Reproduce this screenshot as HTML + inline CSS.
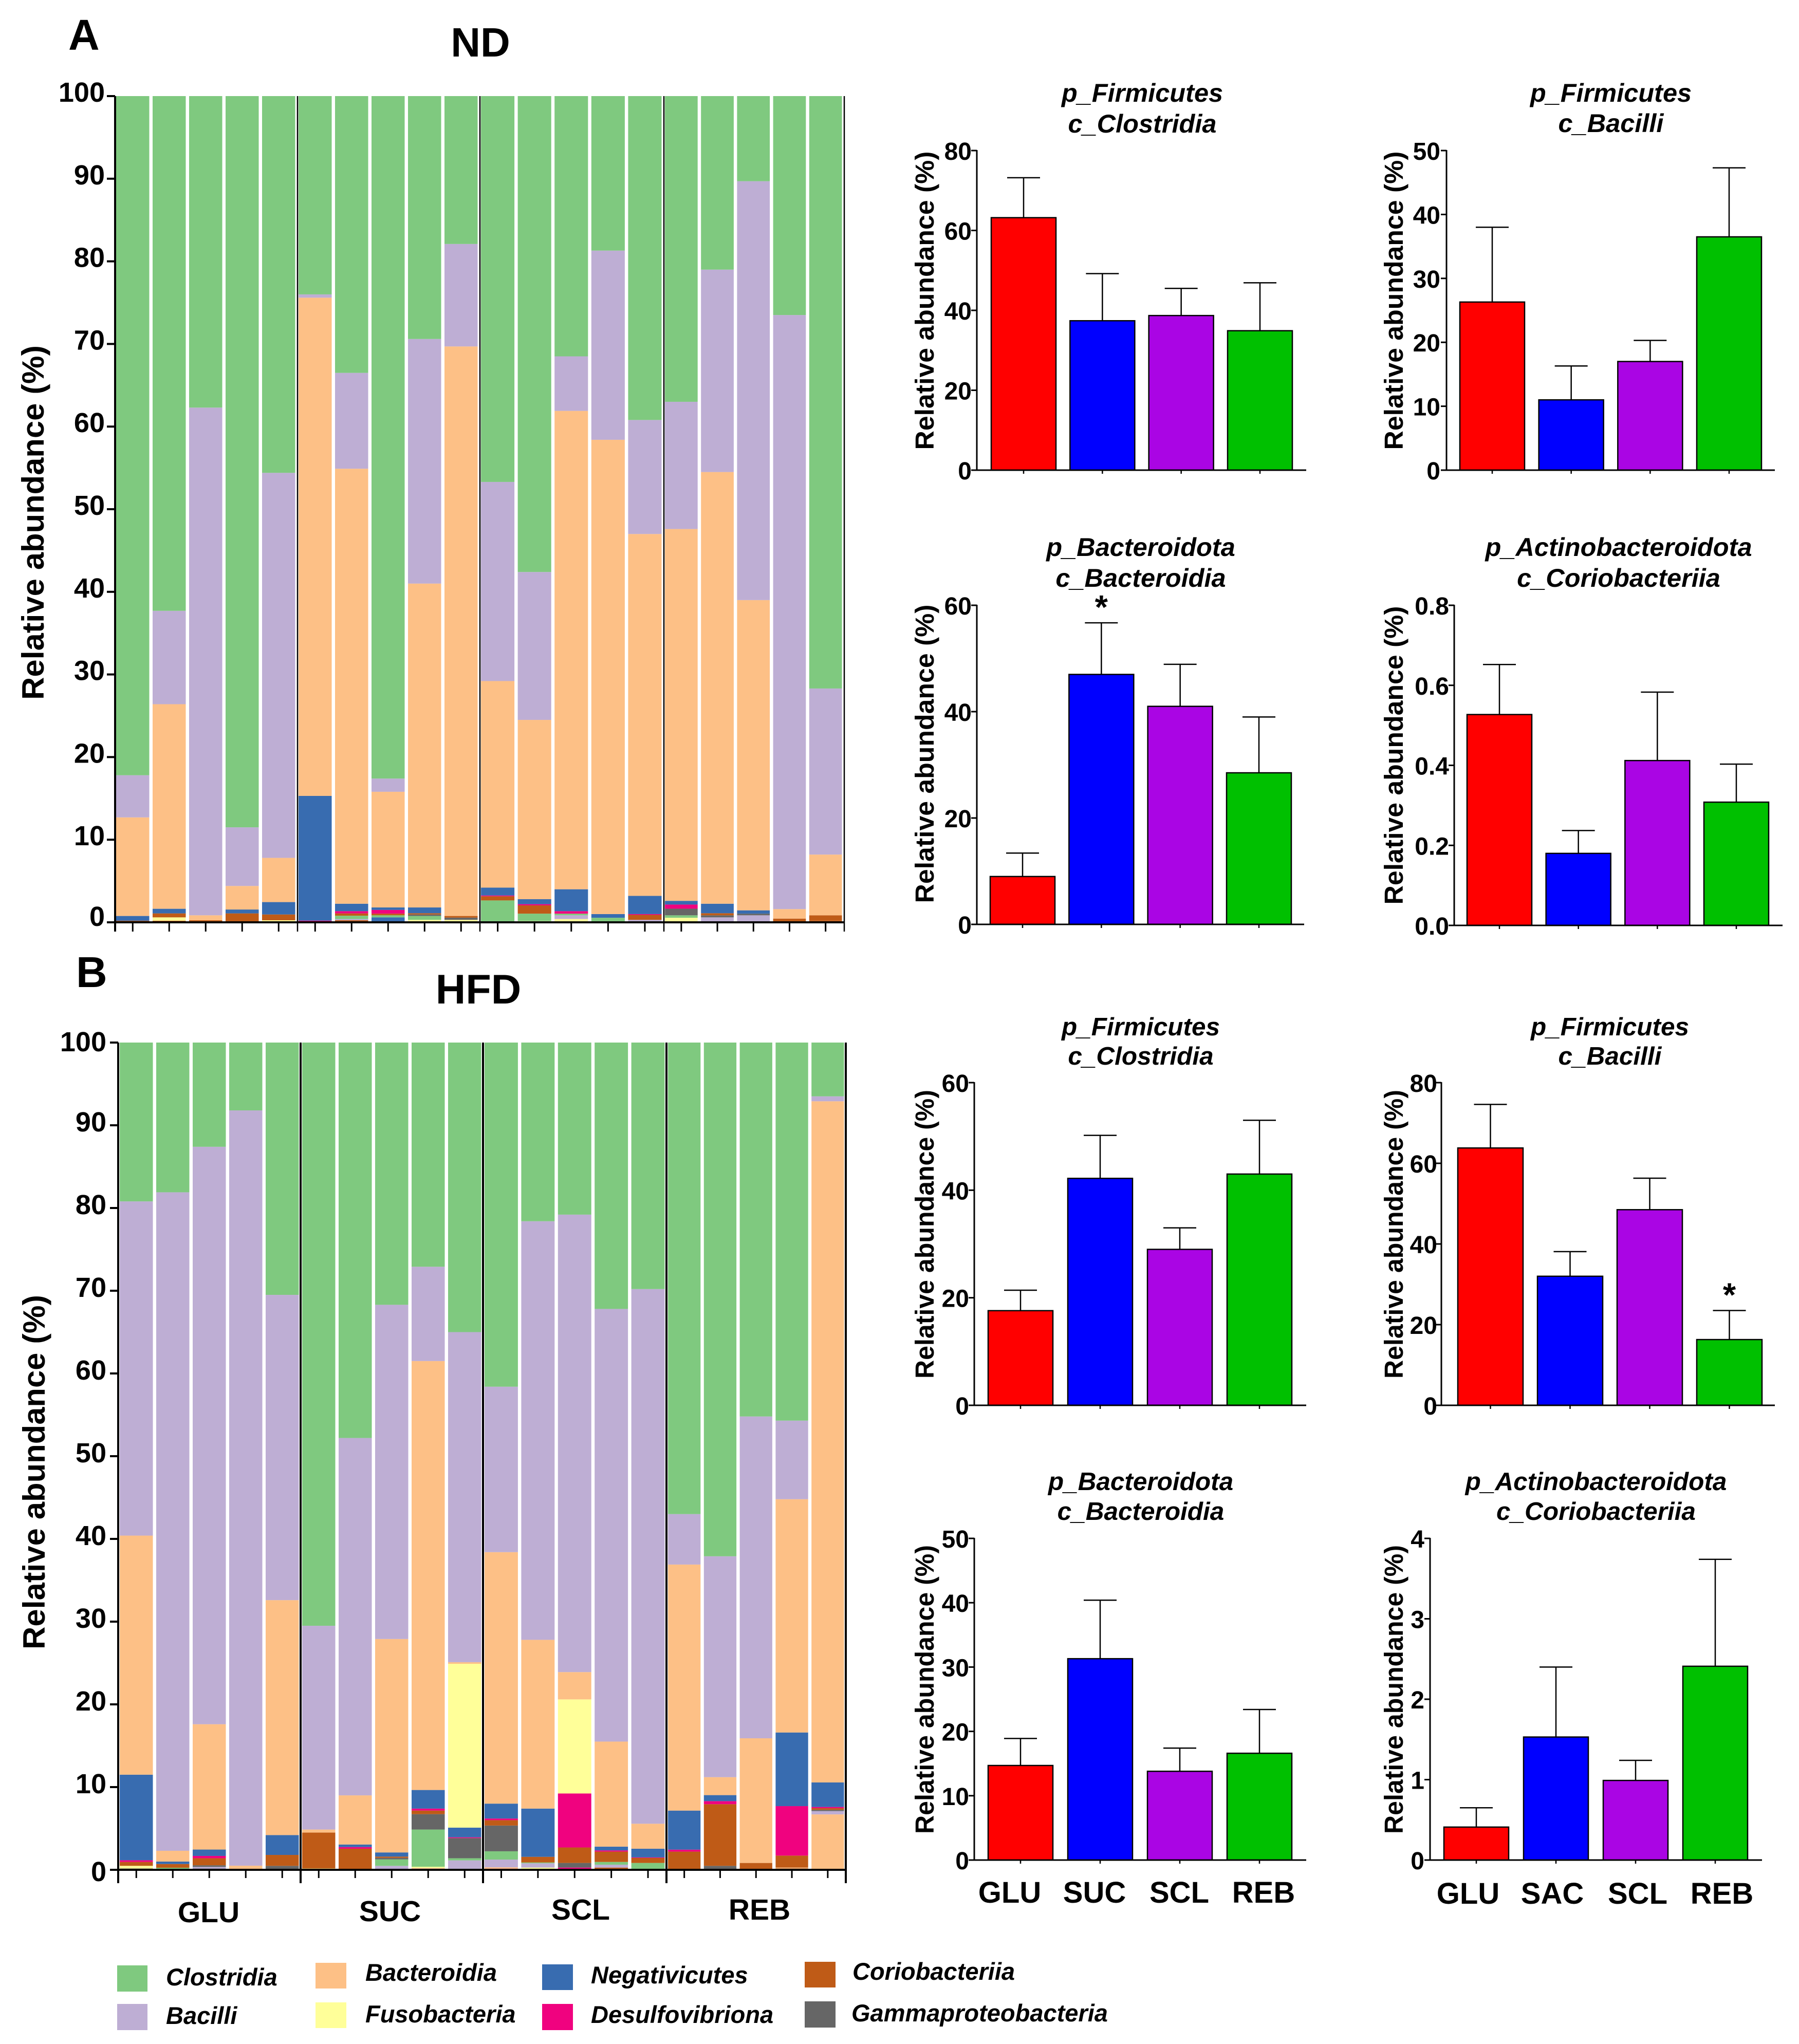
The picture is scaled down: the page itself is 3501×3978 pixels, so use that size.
<!DOCTYPE html>
<html lang="en">
<head>
<meta charset="utf-8">
<title>Relative abundance of gut microbiota classes</title>
<style>
html,body{margin:0;padding:0;background:#fff;}
svg{display:block;font-family:"Liberation Sans",Arial,sans-serif;}
text{fill:#000;font-weight:bold;}
</style>
</head>
<body>
<svg id="figure" xmlns="http://www.w3.org/2000/svg" width="3501" height="3978" viewBox="0 0 3501 3978">
  <rect x="0" y="0" width="3501" height="3978" fill="#fff"/>
  <text x="133" y="97" font-size="84">A</text>
  <text x="148" y="1921" font-size="84">B</text>
  <text x="935" y="110" font-size="80" text-anchor="middle">ND</text>
  <text x="931" y="1953" font-size="81" text-anchor="middle">HFD</text>
  <text x="406" y="3741" font-size="57" text-anchor="middle">GLU</text>
  <text x="759" y="3739" font-size="57" text-anchor="middle">SUC</text>
  <text x="1130" y="3736" font-size="57" text-anchor="middle">SCL</text>
  <text x="1478" y="3736" font-size="57" text-anchor="middle">REB</text>
  <g font-size="47" font-style="italic">
    <rect x="228" y="3825" width="59" height="51" fill="#7fc97f"/>
    <text x="323" y="3864">Clostridia</text>
    <rect x="228" y="3900" width="59" height="51" fill="#beaed4"/>
    <text x="323" y="3939">Bacilli</text>
    <rect x="614" y="3820" width="60" height="50" fill="#fdc086"/>
    <text x="711" y="3855">Bacteroidia</text>
    <rect x="614" y="3897" width="60" height="50" fill="#ffff99"/>
    <text x="711" y="3936">Fusobacteria</text>
    <rect x="1055" y="3823" width="60" height="50" fill="#386cb0"/>
    <text x="1150" y="3860">Negativicutes</text>
    <rect x="1055" y="3900" width="60" height="51" fill="#f0027f"/>
    <text x="1150" y="3937">Desulfovibriona</text>
    <rect x="1566" y="3818" width="60" height="50" fill="#bf5b17"/>
    <text x="1659" y="3853">Coriobacteriia</text>
    <rect x="1566" y="3895" width="60" height="51" fill="#666666"/>
    <text x="1657" y="3934">Gammaproteobacteria</text>
  </g>
</svg>
<script>
// ---------- Stacked chart shared values ----------
const stackTicks = [0, 10, 20, 30, 40, 50, 60, 70, 80, 90, 100];
const taxaOrderBottomUp = ['gray2','brown2','pink2','blue2','yellow2','peach2','lilac2','green2','gray','brown','pink','blue','yellow','peach','lilac','green'];

// ---------- ND stacked values (per sample, GLU / SUC / SCL / REB) ----------
const ndGreen  = [82.2,62.3,37.7,88.5,45.6,24,33.5,82.6,29.4,17.9,46.7,57.6,31.5,18.7,39.2,37,21,10.3,26.5,71.7];
const ndLilac  = [5.1,11.3,61.45,7.1,46.6,0.4,11.6,1.6,29.6,12.4,24.1,17.9,6.6,22.9,13.8,15.4,24.5,50.7,71.9,20.1];
const ndPeach  = [11.93,24.76,0.6,2.85,5.35,60.3,52.65,14,39.2,68.93,25,21.7,57.9,57.4,43.8,45,52.25,37.55,1.15,7.35];
const ndYellow = [0,0,0,0,0,0,0,0,0,0,0,0,0,0,0,0,0,0,0,0];
const ndBlue   = [0.58,0.56,0,0.47,1.5,15.1,0.9,0.3,0.7,0,0.95,0.6,2.65,0.45,2.2,0.45,1.15,0.4,0,0];
const ndPink   = [0,0,0,0,0,0,0.27,0.45,0,0,0.1,0.15,0.3,0,0.1,0.5,0,0,0,0];
const ndBrown  = [0.19,0.48,0,1.03,0.7,0,0.28,0.2,0.15,0.2,0.5,1,0,0,0.6,0,0.25,0,0.45,0.65];
const ndGray   = [0,0,0,0,0,0,0,0,0.18,0.27,0,0,0,0,0,0.8,0.25,0.2,0,0];
const ndGreen2 = [0,0,0,0,0,0,0.4,0.25,0.47,0,2.65,0.9,0.2,0.55,0,0.3,0,0,0,0];
const ndLilac2 = [0,0,0,0,0,0,0.15,0,0,0,0,0,0.45,0,0.3,0,0.6,0.85,0,0];
const ndPeach2 = [0,0,0,0,0,0,0,0,0,0,0,0,0,0,0,0,0,0,0,0];
const ndYellow2= [0,0.4,0,0,0.15,0,0,0,0.3,0.2,0,0.15,0.28,0,0,0.55,0,0,0,0];
const ndBlue2  = [0,0,0,0,0,0,0,0.6,0,0,0,0,0,0,0,0,0,0,0,0];
const ndPink2  = [0,0,0,0,0,0.2,0,0,0,0,0,0,0,0,0,0,0,0,0,0];
const ndBrown2 = [0,0.2,0.25,0.05,0.1,0,0.25,0,0,0,0,0,0,0,0,0,0,0,0,0.2];
const ndGray2  = [0,0,0,0,0,0,0,0,0,0.1,0,0,0.12,0,0,0,0,0,0,0];

// ---------- HFD stacked values ----------
const hfdGreen  = [19.2,18.1,12.6,8.2,30.5,70.5,47.8,31.7,27.1,35,41.6,21.6,20.8,32.2,29.8,57,62.1,45.2,45.7,6.5];
const hfdLilac  = [40.4,79.6,69.8,91.3,36.9,24.63,43.2,40.4,11.4,39.9,20,50.6,55.3,52.3,64.63,6.1,26.7,38.9,9.5,0.6];
const hfdPeach  = [28.9,1.3,15.15,0.4,28.4,0.37,5.94,25.8,51.85,0.2,30.4,20.4,3.3,12.7,3.02,29.74,2.17,15.07,28.2,82.34];
const hfdYellow = [0,0,0,0,0,0,0,0,0,19.8,0,0,11.37,0,0,0,0,0,0,0];
const hfdBlue   = [10.34,0.3,0.77,0,2.4,0,0.31,0.5,2.25,1.17,1.8,5.83,0,0.45,1.05,4.72,0.73,0,8.9,2.96];
const hfdPink   = [0.21,0,0.28,0,0,0,0.2,0,0.24,0.1,0.2,0,6.53,0.15,0.07,0.24,0.37,0,5.98,0.15];
const hfdBrown  = [0.47,0.45,0.85,0,1.32,4.34,2.55,0.15,0.43,0,0.65,0.68,1.87,1.25,0.6,2.2,7.45,0.83,1.45,0.2];
const hfdGray   = [0,0,0.2,0,0.43,0,0,0.19,1.86,2.43,3.11,0,0.56,0,0,0,0.48,0,0,0.15];
const hfdGreen2 = [0,0.25,0,0,0,0,0,0.78,4.5,0.26,1,0.1,0,0.33,0.83,0,0,0,0,0];
const hfdLilac2 = [0,0,0.2,0,0,0,0,0.48,0,1.14,0.94,0.52,0,0.35,0,0,0,0,0,0.4];
const hfdPeach2 = [0,0,0,0,0,0,0,0,0,0,0.16,0,0,0,0,0,0,0,0.11,6.7];
const hfdYellow2= [0.32,0,0,0,0,0.16,0,0,0.22,0,0,0.27,0,0,0,0,0,0,0,0];
const hfdBlue2  = [0,0,0,0,0,0,0,0,0,0,0,0,0,0,0,0,0,0,0,0];
const hfdPink2  = [0,0,0,0,0,0,0,0,0.15,0,0.14,0,0.27,0,0,0,0,0,0,0];
const hfdBrown2 = [0,0,0,0,0,0,0,0,0,0,0,0,0,0.27,0,0,0,0,0.16,0];
const hfdGray2  = [0.16,0,0.15,0.1,0.05,0,0,0,0,0,0,0,0,0,0,0,0,0,0,0];

// ---------- Small bar charts ----------
const ndClostridiaMeans = [63.2,37.4,38.7,34.9];
const ndClostridiaErrors = [73.2,49.2,45.5,46.9];
const ndClostridiaTicks = [0,20,40,60,80];
const ndBacilliMeans = [26.3,11,17,36.5];
const ndBacilliErrors = [38,16.3,20.3,47.3];
const ndBacilliTicks = [0,10,20,30,40,50];
const ndBacteroidiaMeans = [9,47,41,28.5];
const ndBacteroidiaErrors = [13.4,56.7,48.9,39];
const ndBacteroidiaTicks = [0,20,40,60];
const ndCoriobacteriiaMeans = [0.527,0.18,0.412,0.308];
const ndCoriobacteriiaErrors = [0.652,0.237,0.583,0.403];
const ndCoriobacteriiaTicks = ['0.0','0.2','0.4','0.6','0.8'];
const hfdClostridiaMeans = [17.6,42.2,29,43];
const hfdClostridiaErrors = [21.4,50.2,33,53];
const hfdClostridiaTicks = [0,20,40,60];
const hfdBacilliMeans = [63.8,32,48.5,16.3];
const hfdBacilliErrors = [74.6,38.1,56.3,23.5];
const hfdBacilliTicks = [0,20,40,60,80];
const hfdBacteroidiaMeans = [14.7,31.3,13.8,16.6];
const hfdBacteroidiaErrors = [18.9,40.4,17.4,23.4];
const hfdBacteroidiaTicks = [0,10,20,30,40,50];
const hfdCoriobacteriiaMeans = [0.41,1.53,0.99,2.41];
const hfdCoriobacteriiaErrors = [0.65,2.4,1.24,3.74];
const hfdCoriobacteriiaTicks = [0,1,2,3,4];
const groupNamesSuc = ['GLU','SUC','SCL','REB'];
const groupNamesSac = ['GLU','SAC','SCL','REB'];

const taxaColors = {green:'#7fc97f',lilac:'#beaed4',peach:'#fdc086',yellow:'#ffff99',blue:'#386cb0',pink:'#f0027f',brown:'#bf5b17',gray:'#666666',
  green2:'#7fc97f',lilac2:'#beaed4',peach2:'#fdc086',yellow2:'#ffff99',blue2:'#386cb0',pink2:'#f0027f',brown2:'#bf5b17',gray2:'#666666'};
const barColors = ['#ff0000','#0000ff','#aa05e4','#00c000'];

const SVGNS = 'http://www.w3.org/2000/svg';
const figure = document.getElementById('figure');

function make(tag, parent, attrs) {
  const el = document.createElementNS(SVGNS, tag);
  for (const k in attrs) el.setAttribute(k, attrs[k]);
  parent.appendChild(el);
  return el;
}

function drawStacked(layout, series, prefix) {
  const g = make('g', figure, {});
  
  
  const y = v => layout.y0 + (layout.y100 - layout.y0) * v / 100;
  const perGroup = 5;
  const xLeft = i => {
    const gi = Math.floor(i / perGroup);
    const w = (layout.edges[gi + 1] - layout.edges[gi]) / perGroup;
    return layout.edges[gi] + (i % perGroup) * w + layout.inset;
  };
  const barW = i => {
    const gi = Math.floor(i / perGroup);
    return (layout.edges[gi + 1] - layout.edges[gi]) / perGroup - layout.gap;
  };
  const sampleCount = series.green.length;
  for (let i = 0; i < sampleCount; i++) {
    let acc = 0;
    taxaOrderBottomUp.forEach(function (key) {
      const v = series[key][i];
      if (v <= 0) return;
      const seg = make('rect', g, {x: xLeft(i), y: y(acc + v), width: barW(i), height: y(acc) - y(acc + v), fill: taxaColors[key]});
      
      
      acc += v;
    });
    const tick = make('line', g, {x1: xLeft(i) + barW(i) / 2, x2: xLeft(i) + barW(i) / 2, y1: layout.y0, y2: layout.y0 + layout.subTick, stroke: '#000', 'stroke-width': 3});
    
    
  }
  layout.edges.forEach(function (ex, idx) {
    const divider = make('line', g, {x1: ex, x2: ex, y1: layout.y100, y2: layout.y0 + layout.mainTick, stroke: '#000', 'stroke-width': idx === 0 ? 4 : layout.dividerW});
    
    
  });
  const xAxis = make('line', g, {x1: layout.edges[0] - 16, x2: layout.edges[4] + 1, y1: layout.y0, y2: layout.y0, stroke: '#000', 'stroke-width': 4});
  
  
  stackTicks.forEach(function (v) {
    const t = make('line', g, {x1: layout.edges[0] - 16, x2: layout.edges[0], y1: y(v), y2: y(v), stroke: '#000', 'stroke-width': 4});
    
    
    const dy = v === 0 ? layout.zeroDy : v === 100 ? layout.topDy : layout.labelDy;
    const label = make('text', g, {x: layout.labelX, y: y(v) + dy, 'font-size': 54, 'text-anchor': 'end'});
    label.textContent = v;
    
    
  });
  const title = make('text', g, {x: layout.titleX, y: layout.titleY, 'font-size': 60, 'text-anchor': 'middle', textLength: 690, lengthAdjust: 'spacingAndGlyphs', transform: 'rotate(-90 ' + layout.titleX + ' ' + layout.titleY + ')'});
  title.textContent = 'Relative abundance (%)';
  
  
}

drawStacked({y0: 1795, y100: 187, edges: [224, 579, 934, 1292, 1643], inset: 2, gap: 6.5, subTick: 18, mainTick: 18, dividerW: 2.5, labelX: 204, labelDy: 11, zeroDy: 7, topDy: 11, titleX: 85, titleY: 1017},
  {green: ndGreen, lilac: ndLilac, peach: ndPeach, yellow: ndYellow, blue: ndBlue, pink: ndPink, brown: ndBrown, gray: ndGray,
   green2: ndGreen2, lilac2: ndLilac2, peach2: ndPeach2, yellow2: ndYellow2, blue2: ndBlue2, pink2: ndPink2, brown2: ndBrown2, gray2: ndGray2}, 'nd');

drawStacked({y0: 3639, y100: 2029, edges: [230, 585, 940, 1297, 1646], inset: 3, gap: 6.5, subTick: 16, mainTick: 26, dividerW: 4, labelX: 207, labelDy: 12, zeroDy: 22, topDy: 17, titleX: 87, titleY: 2865},
  {green: hfdGreen, lilac: hfdLilac, peach: hfdPeach, yellow: hfdYellow, blue: hfdBlue, pink: hfdPink, brown: hfdBrown, gray: hfdGray,
   green2: hfdGreen2, lilac2: hfdLilac2, peach2: hfdPeach2, yellow2: hfdYellow2, blue2: hfdBlue2, pink2: hfdPink2, brown2: hfdBrown2, gray2: hfdGray2}, 'hfd');

function drawBars(c) {
  const g = make('g', figure, {});
  
  
  const maxV = Number(c.ticks[c.ticks.length - 1]);
  const y = v => c.y0 + (c.yTop - c.y0) * v / maxV;
  const plotW = c.barX1 - c.barX0;
  const barW = c.barW;
  const step = (plotW - barW) / (c.means.length - 1);
  const xL = i => c.barX0 + i * step;
  const lines = [c.title1, c.title2];
  lines.forEach(function (s, i) {
    const t = make('text', g, {x: c.titleX, y: c.titleYs[i], 'font-size': c.titleSize, 'font-style': 'italic', 'text-anchor': 'middle'});
    t.textContent = s;
    
    
  });
  c.means.forEach(function (m, i) {
    const cx = xL(i) + barW / 2;
    const stem = make('line', g, {x1: cx, x2: cx, y1: y(m), y2: y(c.errors[i]), stroke: '#000', 'stroke-width': 2.5});
    
    
    const cap = make('line', g, {x1: cx - 32, x2: cx + 32, y1: y(c.errors[i]), y2: y(c.errors[i]), stroke: '#000', 'stroke-width': 2.5});
    
    
    const bar = make('rect', g, {x: xL(i), y: y(m), width: barW, height: c.y0 - y(m), fill: barColors[i], stroke: '#000', 'stroke-width': 2.5});
    
    
    const tick = make('line', g, {x1: cx, x2: cx, y1: c.y0, y2: c.y0 + 7, stroke: '#000', 'stroke-width': 2.5});
    
    
    if (c.groups) {
      const gl = make('text', g, {x: c.groupXs[i], y: c.groupY, 'font-size': 58, 'text-anchor': 'middle'});
      gl.textContent = c.groups[i];
      
      
    }
    if (c.starIndex === i) {
      const st = make('text', g, {x: cx, y: y(c.errors[i]) - 8, 'font-size': 65, 'text-anchor': 'middle'});
      st.textContent = '*';
      
      
    }
  });
  const yAxis = make('line', g, {x1: c.axisX, x2: c.axisX, y1: c.yTop - 1, y2: c.y0 + 1, stroke: '#000', 'stroke-width': 3});
  
  
  const xAxis = make('line', g, {x1: c.axisX - 10, x2: c.axisEnd, y1: c.y0, y2: c.y0, stroke: '#000', 'stroke-width': 3});
  
  
  c.ticks.forEach(function (v) {
    const t = make('line', g, {x1: c.axisX - 11, x2: c.axisX, y1: y(Number(v)), y2: y(Number(v)), stroke: '#000', 'stroke-width': 3});
    
    
    const label = make('text', g, {x: c.labelX, y: y(Number(v)) + 18, 'font-size': 48, 'text-anchor': 'end'});
    label.textContent = v;
    
    
  });
  const title = make('text', g, {x: c.yTitleX, y: c.yTitleY, 'font-size': 51, 'text-anchor': 'middle', textLength: c.yTitleLen, lengthAdjust: 'spacingAndGlyphs', transform: 'rotate(-90 ' + c.yTitleX + ' ' + c.yTitleY + ')'});
  title.textContent = 'Relative abundance (%)';
  
  
}

drawBars({name:'nd-clostridia', means:ndClostridiaMeans, errors:ndClostridiaErrors, ticks:ndClostridiaTicks, title1:'p_Firmicutes', title2:'c_Clostridia',
  y0:915, yTop:293, axisX:1901, axisEnd:2542, barX0:1929, barX1:2515, barW:126, labelX:1891, titleX:2223, titleYs:[198,258], titleSize:50.5, yTitleX:1817, yTitleY:585, yTitleLen:581});
drawBars({name:'nd-bacilli', means:ndBacilliMeans, errors:ndBacilliErrors, ticks:ndBacilliTicks, title1:'p_Firmicutes', title2:'c_Bacilli', 
  y0:915, yTop:293, axisX:2815, axisEnd:3454, barX0:2841, barX1:3428, barW:126, labelX:2803, titleX:3135, titleYs:[198,257], titleSize:50.5, yTitleX:2730, yTitleY:585, yTitleLen:581});
drawBars({name:'nd-bacteroidia', means:ndBacteroidiaMeans, errors:ndBacteroidiaErrors, ticks:ndBacteroidiaTicks, title1:'p_Bacteroidota', title2:'c_Bacteroidia', starIndex:1,
  y0:1799, yTop:1178, axisX:1901, axisEnd:2538, barX0:1927, barX1:2513, barW:126, labelX:1891, titleX:2220, titleYs:[1082,1142], titleSize:50.5, yTitleX:1817, yTitleY:1467, yTitleLen:581});
drawBars({name:'nd-coriobacteriia', means:ndCoriobacteriiaMeans, errors:ndCoriobacteriiaErrors, ticks:ndCoriobacteriiaTicks, title1:'p_Actinobacteroidota', title2:'c_Coriobacteriia',
  y0:1801, yTop:1178, axisX:2830, axisEnd:3469, barX0:2855, barX1:3442, barW:126, labelX:2820, titleX:3150, titleYs:[1082,1142], titleSize:50.5, yTitleX:2730, yTitleY:1470, yTitleLen:581});
drawBars({name:'hfd-clostridia', means:hfdClostridiaMeans, errors:hfdClostridiaErrors, ticks:hfdClostridiaTicks, title1:'p_Firmicutes', title2:'c_Clostridia',
  y0:2735, yTop:2107, axisX:1896, axisEnd:2542, barX0:1923, barX1:2514, barW:126, labelX:1886, titleX:2220, titleYs:[2015,2072], titleSize:49.5, yTitleX:1817, yTitleY:2402, yTitleLen:562});
drawBars({name:'hfd-bacilli', means:hfdBacilliMeans, errors:hfdBacilliErrors, ticks:hfdBacilliTicks, title1:'p_Firmicutes', title2:'c_Bacilli', starIndex:3,
  y0:2735, yTop:2107, axisX:2805, axisEnd:3454, barX0:2837, barX1:3429, barW:127, labelX:2797, titleX:3133, titleYs:[2015,2072], titleSize:49.5, yTitleX:2730, yTitleY:2402, yTitleLen:562});
drawBars({name:'hfd-bacteroidia', means:hfdBacteroidiaMeans, errors:hfdBacteroidiaErrors, ticks:hfdBacteroidiaTicks, title1:'p_Bacteroidota', title2:'c_Bacteroidia', groups:groupNamesSuc, groupXs:[1965,2130,2295,2459], groupY:3703,
  y0:3620, yTop:2994, axisX:1896, axisEnd:2542, barX0:1923, barX1:2514, barW:126, labelX:1886, titleX:2220, titleYs:[2900,2958], titleSize:49.5, yTitleX:1817, yTitleY:3288, yTitleLen:562});
drawBars({name:'hfd-coriobacteriia', means:hfdCoriobacteriiaMeans, errors:hfdCoriobacteriiaErrors, ticks:hfdCoriobacteriiaTicks, title1:'p_Actinobacteroidota', title2:'c_Coriobacteriia', groups:groupNamesSac, groupXs:[2857,3021,3187,3351], groupY:3705,
  y0:3620, yTop:2994, axisX:2783, axisEnd:3429, barX0:2810, barX1:3401, barW:126, labelX:2772, titleX:3106, titleYs:[2900,2958], titleSize:49.5, yTitleX:2730, yTitleY:3288, yTitleLen:562});
</script>
</body>
</html>
